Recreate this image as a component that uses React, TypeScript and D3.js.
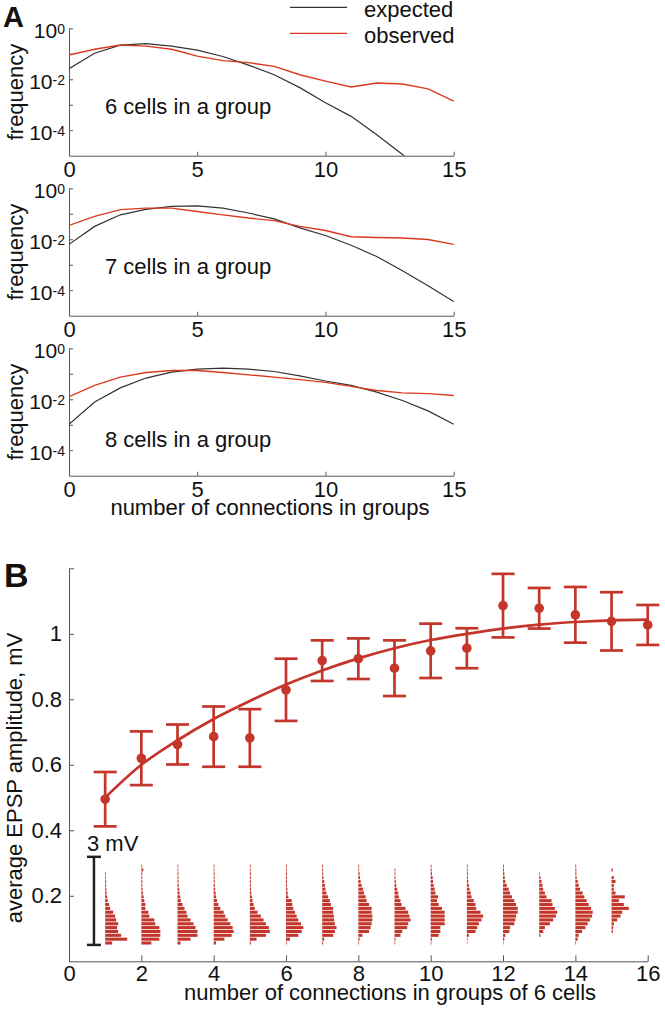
import { useEffect, useRef } from "react";
import * as d3 from "d3";

const W = 665;
const H = 1009;
const FONT = "'Liberation Sans', Arial, Helvetica, sans-serif";
const RED_A = "#dc3a1e";
const RED_B = "#c4352a";
const AXIS = "#555";
const INK = "#111";

// ---- panel A: distribution of connection counts (log frequency) ----
const connections = [0, 1, 2, 3, 4, 5, 6, 7, 8, 9, 10, 11, 12, 13, 14, 15];
const groupLabels = ["6 cells in a group", "7 cells in a group", "8 cells in a group"];

const expected6 = [0.026, 0.105, 0.22, 0.25, 0.2, 0.14, 0.078, 0.036, 0.015, 0.0047, 0.0012, 0.00035, 0.000066, 0.0000112, 0.0000016, 0.0000002];
const observed6 = [0.089, 0.15, 0.22, 0.2, 0.15, 0.081, 0.054, 0.045, 0.032, 0.015, 0.0085, 0.005, 0.0071, 0.0065, 0.0042, 0.0014];
const expected7 = [0.0063, 0.032, 0.091, 0.15, 0.195, 0.204, 0.166, 0.107, 0.063, 0.028, 0.014, 0.0058, 0.0021, 0.00058, 0.00015, 0.000036];
const observed7 = [0.035, 0.079, 0.145, 0.166, 0.166, 0.123, 0.091, 0.068, 0.054, 0.032, 0.022, 0.0126, 0.0117, 0.0112, 0.0098, 0.0063];
const expected8 = [0.00105, 0.0078, 0.028, 0.068, 0.117, 0.151, 0.166, 0.151, 0.123, 0.083, 0.052, 0.035, 0.019, 0.0089, 0.0035, 0.00105];
const observed8 = [0.0126, 0.035, 0.074, 0.112, 0.135, 0.135, 0.112, 0.091, 0.074, 0.059, 0.046, 0.032, 0.022, 0.0178, 0.0166, 0.0141];

// ---- panel B: EPSP amplitude vs connections ----
const groupConnections = [1, 2, 3, 4, 5, 6, 7, 8, 9, 10, 11, 12, 13, 14, 15, 16];
const epspMean = [0.495, 0.62, 0.662, 0.686, 0.682, 0.829, 0.918, 0.924, 0.895, 0.948, 0.956, 1.086, 1.078, 1.058, 1.038, 1.027];
const epspErr = [0.083, 0.082, 0.061, 0.092, 0.088, 0.095, 0.062, 0.062, 0.085, 0.083, 0.061, 0.097, 0.062, 0.085, 0.089, 0.061];
const fitY = [0.5, 0.6, 0.675, 0.74, 0.795, 0.845, 0.888, 0.925, 0.956, 0.981, 1.0, 1.016, 1.028, 1.036, 1.041, 1.043];

// amplitude histograms (bins of HIST_BIN mV from 0, counts per bin), one per connection count 1..15
const histConnections = [1, 2, 3, 4, 5, 6, 7, 8, 9, 10, 11, 12, 13, 14, 15];
const amplitudeHists = [
  [7, 22, 16, 13, 12, 13, 11, 10, 8, 5, 4, 2.5, 2, 1.5, 1.2, 1, 1, 0.8, 0.8],
  [10, 18, 19, 19, 18, 14, 13, 8, 7, 4, 4, 3, 2.3, 1.7, 1.3, 1, 1, 1, 1, 2, 0.8],
  [3, 13, 20, 20, 18, 16, 13, 10, 9, 7, 5, 3.3, 2.7, 2, 1.7, 1.3, 1, 1, 1, 0.8, 0.8],
  [2.3, 10.7, 18, 20, 19, 16.7, 14, 11.7, 10, 6.7, 4.7, 3.3, 2.3, 2, 1.5, 1.2, 1, 1, 1, 0.8, 0.8],
  [1, 6.7, 16, 20, 19, 16, 13.7, 11, 7.7, 5, 3.7, 2.7, 2, 1.5, 1.2, 1, 1, 1, 1, 0.8, 0.8],
  [0.7, 4, 12.3, 15.7, 17.3, 15, 12.3, 10.7, 9, 7.3, 6.3, 5.7, 2.3, 1.7, 1.3, 1, 1, 1, 1, 0.8, 0.8],
  [1, 2, 11, 12.7, 14.3, 12.7, 12, 11.7, 11, 11, 8.7, 7.7, 6, 4.3, 3.3, 2.7, 2, 1.3, 1, 1, 0.8],
  [0.7, 1.3, 4, 10.7, 12.3, 13.3, 14, 14, 13.3, 13.3, 10.7, 8.3, 7.3, 5.7, 4.7, 3.3, 2.3, 1.7, 1.3, 0.8, 0.8],
  [0.7, 1, 6, 7.7, 12.7, 13.7, 16, 15, 13.7, 11, 7, 6, 4.3, 3.7, 2.7, 1.7, 1.3, 1, 0.8, 0.8],
  [0.7, 1.3, 8, 9.7, 9.7, 14, 14, 14, 14, 11.3, 8, 6.3, 7.3, 4.7, 4, 3, 2.3, 2, 1.3, 1, 0.8],
  [0.5, 0.7, 2, 8.7, 10.3, 12, 14.7, 16.3, 13.7, 9.3, 8.7, 7, 4.7, 4, 2.7, 2, 1.3, 1, 1, 0.8, 0.8],
  [0.5, 1.3, 2.3, 6.3, 7, 11.3, 12.3, 13, 14.7, 14.7, 13, 11.3, 9, 7, 5.7, 3.7, 2.3, 1.7, 1.3, 1, 0.8],
  [0, 0, 1.3, 4, 5.7, 10.7, 14, 16.7, 18, 15.7, 13.3, 12.3, 7.3, 5.7, 4, 3.3, 2.3, 1.3, 0.7],
  [0.7, 2.3, 3.3, 6.7, 10, 12.3, 14.7, 16.7, 17.3, 15.7, 13.3, 11.3, 9, 7.3, 4.7, 3.3, 2.3, 1.3, 1, 1, 0.8],
  [0, 0, 0, 1.3, 1.7, 2.3, 5.7, 9, 10.7, 17.3, 12.3, 7.3, 13.3, 4, 2.3, 2.3, 4, 2.3, 0, 1.3],
];
const HIST_BIN = 0.131; // mV per bin
const SCALE_BAR_MV = 3;

type Sel = d3.Selection<SVGSVGElement, unknown, null, undefined>;

function styleAxis(g: d3.Selection<SVGGElement, unknown, null, undefined>) {
  g.select(".domain").attr("stroke", AXIS).attr("stroke-width", 1);
  g.selectAll(".tick line").attr("stroke", AXIS);
  g.selectAll(".tick text").attr("fill", INK).attr("font-size", 22).attr("font-family", FONT);
}

function drawPanelA(svg: Sel) {
  const xA = d3.scaleLinear().domain([0, 15]).range([69, 453.7]);
  const panels = [
    { offset: 0, exp: expected6, obs: observed6, label: groupLabels[0], labelY: 113.5 },
    { offset: 160, exp: expected7, obs: observed7, label: groupLabels[1], labelY: 273.5 },
    { offset: 320, exp: expected8, obs: observed8, label: groupLabels[2], labelY: 446.5 },
  ];

  panels.forEach((p, i) => {
    const top = 28.3 + p.offset;
    const bottom = 155.7 + p.offset;
    const y = d3.scaleLog().domain([1e-5, 1]).range([bottom, top]);
    const g = svg.append("g");

    g.append("clipPath")
      .attr("id", `clipA${i}`)
      .append("rect")
      .attr("x", xA(0))
      .attr("y", top - 5)
      .attr("width", xA(15) - xA(0) + 2)
      .attr("height", bottom - top + 5);

    g.append("g")
      .attr("transform", `translate(0,${bottom})`)
      .call(d3.axisBottom(xA).tickValues([0, 5, 10, 15]).tickSizeInner(-4).tickSizeOuter(0).tickPadding(6))
      .call(styleAxis);

    g.append("g")
      .attr("transform", `translate(${xA(0)},0)`)
      .call(
        d3
          .axisLeft(y)
          .tickValues([1e-4, 1e-3, 1e-2, 1e-1, 1])
          .tickSizeInner(-4)
          .tickSizeOuter(0)
          .tickFormat(() => "")
      )
      .call(styleAxis);

    [1, 1e-2, 1e-4].forEach((v) => {
      const t = g
        .append("text")
        .attr("x", 65)
        .attr("y", y(v) + 10)
        .attr("text-anchor", "end")
        .attr("fill", INK)
        .attr("font-size", 21);
      t.append("tspan").text("10");
      t.append("tspan").attr("font-size", 14).attr("dy", -4).text(String(Math.round(Math.log10(v))));
    });

    const line = d3
      .line<number>()
      .x((_, k) => xA(connections[k]))
      .y((d) => y(Math.max(d, 1e-9)));

    g.append("path")
      .datum(p.exp)
      .attr("clip-path", `url(#clipA${i})`)
      .attr("fill", "none")
      .attr("stroke", "#333")
      .attr("stroke-width", 1.2)
      .attr("d", line);

    g.append("path")
      .datum(p.obs)
      .attr("clip-path", `url(#clipA${i})`)
      .attr("fill", "none")
      .attr("stroke", RED_A)
      .attr("stroke-width", 1.4)
      .attr("d", line);

    g.append("text")
      .attr("x", 105)
      .attr("y", p.labelY)
      .attr("fill", INK)
      .attr("font-size", 22)
      .text(p.label);

    g.append("text")
      .attr("transform", `translate(23,${(top + bottom) / 2}) rotate(-90)`)
      .attr("text-anchor", "middle")
      .attr("fill", INK)
      .attr("font-size", 22)
      .text("frequency");
  });

  // legend
  const legend = [
    { name: "expected", color: "#333", y: 7.3 },
    { name: "observed", color: RED_A, y: 33.3 },
  ];
  legend.forEach((l) => {
    svg.append("line")
      .attr("x1", 290).attr("x2", 347)
      .attr("y1", l.y).attr("y2", l.y)
      .attr("stroke", l.color).attr("stroke-width", 1.3);
    svg.append("text")
      .attr("x", 364).attr("y", l.y + 9.5)
      .attr("fill", INK).attr("font-size", 22)
      .text(l.name);
  });

  svg.append("text")
    .attr("x", 270).attr("y", 515)
    .attr("text-anchor", "middle")
    .attr("fill", INK).attr("font-size", 22)
    .text("number of connections in groups");

  svg.append("text")
    .attr("x", 3).attr("y", 26.5)
    .attr("fill", INK).attr("font-size", 29).attr("font-weight", "bold")
    .text("A");
}

function drawPanelB(svg: Sel) {
  const xB = d3.scaleLinear().domain([0, 16]).range([69, 647.7]);
  const yB = d3.scaleLinear().domain([0, 1.2]).range([961.3, 568.3]);
  const g = svg.append("g");

  g.append("g")
    .attr("transform", `translate(0,${yB(0)})`)
    .call(d3.axisBottom(xB).tickValues([0, 2, 4, 6, 8, 10, 12, 14, 16]).tickSizeInner(-6).tickSizeOuter(0).tickPadding(4))
    .call(styleAxis);

  g.append("g")
    .attr("transform", `translate(${xB(0)},0)`)
    .call(
      d3
        .axisLeft(yB)
        .tickValues([0.2, 0.4, 0.6, 0.8, 1, 1.2])
        .tickSizeInner(-5)
        .tickSizeOuter(0)
        .tickPadding(7)
        .tickFormat((d) => (+d > 1.1 ? "" : d3.format("~g")(+d)))
    )
    .call(styleAxis);

  // histograms of single EPSP amplitudes
  const hY = d3.scaleLinear().domain([0, SCALE_BAR_MV]).range([yB(0.05), yB(0.319)]);
  const hW = d3.scaleLinear().domain([0, 20]).range([0, 20]);
  const binPx = hY(0) - hY(HIST_BIN);
  amplitudeHists.forEach((counts, i) => {
    const x0 = xB(histConnections[i]);
    g.append("g")
      .selectAll("rect")
      .data(counts)
      .join("rect")
      .attr("x", x0)
      .attr("y", (_, k) => hY((k + 1) * HIST_BIN) + 0.4)
      .attr("width", (d) => hW(d))
      .attr("height", binPx - 0.8)
      .attr("fill", RED_B);
  });

  // 3 mV scale bar
  const sx = xB(0.69);
  const bar = g.append("g").attr("stroke", "#222").attr("stroke-width", 2.5);
  bar.append("line").attr("x1", sx).attr("x2", sx).attr("y1", hY(0)).attr("y2", hY(SCALE_BAR_MV));
  [0, SCALE_BAR_MV].forEach((v) =>
    bar.append("line").attr("x1", sx - 7).attr("x2", sx + 7).attr("y1", hY(v)).attr("y2", hY(v))
  );
  g.append("text")
    .attr("x", 87).attr("y", hY(SCALE_BAR_MV) - 5.5)
    .attr("fill", INK).attr("font-size", 22)
    .text("3 mV");

  // fitted curve
  const fit = d3
    .line<number>()
    .x((_, k) => xB(groupConnections[k]))
    .y((d) => yB(d))
    .curve(d3.curveMonotoneX);
  g.append("path")
    .datum(fitY)
    .attr("fill", "none")
    .attr("stroke", RED_B)
    .attr("stroke-width", 2.7)
    .attr("d", fit);

  // error bars + means
  const eb = g.append("g").attr("stroke", RED_B).attr("stroke-width", 2.7);
  epspMean.forEach((m, k) => {
    const cx = xB(groupConnections[k]);
    const lo = yB(m - epspErr[k]);
    const hi = yB(m + epspErr[k]);
    eb.append("line").attr("x1", cx).attr("x2", cx).attr("y1", lo).attr("y2", hi);
    eb.append("line").attr("x1", cx - 11.5).attr("x2", cx + 11.5).attr("y1", lo).attr("y2", lo);
    eb.append("line").attr("x1", cx - 11.5).attr("x2", cx + 11.5).attr("y1", hi).attr("y2", hi);
  });
  g.append("g")
    .selectAll("circle")
    .data(epspMean)
    .join("circle")
    .attr("cx", (_, k) => xB(groupConnections[k]))
    .attr("cy", (d) => yB(d))
    .attr("r", 4.8)
    .attr("fill", RED_B);

  g.append("text")
    .attr("x", 390).attr("y", 1000)
    .attr("text-anchor", "middle")
    .attr("fill", INK).attr("font-size", 22)
    .text("number of connections in groups of 6 cells");

  g.append("text")
    .attr("transform", `translate(22,778) rotate(-90)`)
    .attr("text-anchor", "middle")
    .attr("fill", INK).attr("font-size", 22)
    .text("average EPSP amplitude, mV");

  svg.append("text")
    .attr("x", 4).attr("y", 586.5)
    .attr("fill", INK).attr("font-size", 34).attr("font-weight", "bold")
    .text("B");
}

export default function App() {
  const svgRef = useRef<SVGSVGElement>(null);

  useEffect(() => {
    if (!svgRef.current) return;
    const svg = d3.select(svgRef.current) as Sel;
    svg.selectAll("*").remove();
    svg.attr("font-family", FONT);
    drawPanelA(svg);
    drawPanelB(svg);
  }, []);

  return (
    <div style={{ position: "absolute", left: 0, top: 0 }}>
      <svg ref={svgRef} width={W} height={H} style={{ display: "block", background: "#fff" }} />
    </div>
  );
}
